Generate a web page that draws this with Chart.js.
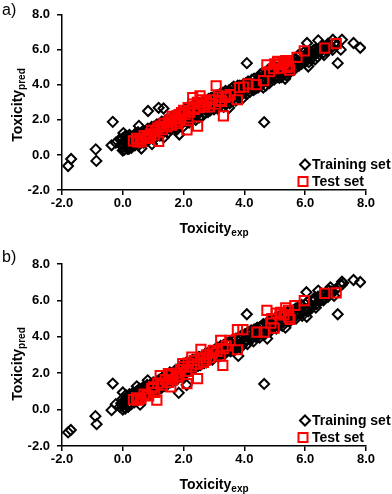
<!DOCTYPE html>
<html>
<head>
<meta charset="utf-8">
<script src="https://cdn.jsdelivr.net/npm/chart.js@4/dist/chart.umd.min.js"></script>
<style>
  body { margin: 0; background: #fff; font-family: 'Liberation Sans', Arial, sans-serif; }
  .panel { position: relative; width: 392px; height: 247px; }
  .panel canvas { position: absolute; left: 0; top: 0; }
  .tag { position: absolute; left: 2px; font-size: 16px; line-height: 16px; }
  .xtitle { position: absolute; left: 214px; transform: translateX(-50%); font-size: 14px; line-height: 14px; font-weight: bold; white-space: nowrap; }
  .ytitle { position: absolute; left: 18px; transform: translate(-50%, -50%) rotate(-90deg); font-size: 14px; line-height: 14px; font-weight: bold; white-space: nowrap; }
  .sub { font-size: 10px; position: relative; top: 3px; }
</style>
</head>
<body>
<div class="panel">
  <canvas id="chartA" width="392" height="247"></canvas>
  <div class="tag" style="top:2px">a)</div>
  <div class="ytitle" style="top:105px">Toxicity<span class="sub">pred</span></div>
  <div class="xtitle" style="top:221px">Toxicity<span class="sub">exp</span></div>
</div>
<div class="panel">
  <canvas id="chartB" width="392" height="247"></canvas>
  <div class="tag" style="top:2px">b)</div>
  <div class="ytitle" style="top:117px">Toxicity<span class="sub">pred</span></div>
  <div class="xtitle" style="top:230px">Toxicity<span class="sub">exp</span></div>
</div>
<script>
// Axis ticks (both panels)
const tickValues = [-2, 0, 2, 4, 6, 8];
const seriesLabels = ['Training set', 'Test set'];

// Panel a) - training set [exp, pred]
const trainingA = [
  [-1.80, -0.63], [-1.70, -0.23], [-0.89, 0.32], [-0.87, -0.34], [-0.33, 1.89], [-0.37, 0.55],
  [-0.23, 0.70], [0.02, 1.25], [0.83, 2.51], [1.18, 2.69], [1.34, 2.65], [0.61, 0.37],
  [0.96, 0.62], [0.53, 1.66], [1.86, 1.17], [4.08, 5.24], [4.65, 1.87], [7.07, 5.24],
  [6.43, 6.54], [6.91, 6.58], [7.21, 6.58], [7.59, 6.39], [7.81, 6.12], [6.06, 6.39],
  [7.17, 6.01], [5.34, 4.35], [3.50, 2.69],
  [0.0, 0.45], [0.0, 0.95], [0.05, 0.3], [0.1, 0.7], [0.1, 1.1], [0.15, 0.5], [0.2, 0.85],
  [0.2, 0.35], [0.25, 1.05], [0.3, 0.6], [0.3, 0.95], [0.35, 0.75], [0.4, 1.2], [0.4, 0.55],
  [0.45, 0.9], [0.5, 1.3], [0.5, 0.7], [0.55, 1.05], [0.6, 0.85], [0.65, 1.35], [0.7, 0.95],
  [0.75, 1.2], [0.8, 0.8], [0.85, 1.45], [0.9, 1.1], [0.95, 1.6], [1.0, 1.25], [1.0, 0.9],
  [1.1, 1.5], [1.15, 1.2], [1.2, 1.75], [1.25, 1.35], [1.3, 1.6], [1.35, 1.0], [1.4, 1.85],
  [1.45, 1.45], [1.5, 1.7], [1.55, 2.05], [1.6, 1.55], [1.65, 1.9], [1.7, 2.25], [1.75, 1.65],
  [1.8, 2.0], [1.9, 2.4], [1.95, 1.8], [2.0, 2.2], [2.05, 2.6], [2.1, 1.9], [2.2, 2.45],
  [2.25, 2.1], [2.3, 2.8], [2.35, 2.3], [2.4, 2.0], [2.45, 2.65], [2.5, 2.4], [2.55, 2.95],
  [2.6, 2.2], [2.7, 2.7], [2.75, 3.1], [2.8, 2.45], [2.85, 2.9], [2.9, 3.25], [3.0, 2.6],
  [3.0, 3.05], [3.1, 3.4], [3.15, 2.8], [3.2, 3.15], [3.3, 3.55], [3.35, 2.95], [3.4, 3.3],
  [3.5, 3.7], [3.55, 3.1], [3.6, 3.45], [3.65, 3.9], [3.75, 3.6], [3.8, 3.25], [3.85, 3.95],
  [3.9, 3.45], [4.0, 3.75], [4.05, 4.1], [4.1, 3.5], [4.2, 3.9], [4.25, 4.3], [4.3, 3.7],
  [4.4, 4.1], [4.45, 3.85], [4.5, 4.45], [4.55, 4.0], [4.6, 4.7], [4.65, 4.25], [4.7, 3.95],
  [4.75, 4.5], [4.8, 4.9], [4.85, 4.3], [4.9, 4.65], [5.0, 5.05], [5.0, 4.45], [5.1, 4.8],
  [5.15, 4.4], [5.2, 5.1], [5.25, 4.6], [5.3, 4.95], [5.4, 5.2], [5.45, 4.75], [5.5, 5.05],
  [5.6, 5.4], [5.65, 4.95], [5.7, 5.25], [5.75, 5.65], [5.8, 5.1], [5.9, 5.5], [5.95, 5.85],
  [6.0, 5.3], [6.05, 5.65], [6.1, 5.05], [6.15, 5.9], [6.2, 5.5], [6.3, 5.8], [6.35, 6.05],
  [6.4, 5.6], [6.5, 5.95], [6.55, 6.25], [6.6, 5.85], [6.7, 6.1], [6.75, 6.35], [6.8, 6.2],
  [0.0, 0.25], [0.05, 0.55], [0.08, 1.05], [0.15, 0.35], [-0.05, 0.6], [-0.1, 0.9], [0.2, 0.45],
  [0.25, 0.75], [0.05, 0.75], [0.12, 0.95], [0.18, 0.6], [0.22, 1.15], [0.28, 0.4], [0.32, 0.85],
  [0.38, 1.0], [0.42, 0.7], [0.48, 1.15], [0.52, 0.55], [0.58, 1.2], [0.62, 0.95], [0.68, 0.7],
  [0.72, 1.3], [0.78, 1.05], [0.82, 1.5], [0.88, 0.9], [0.92, 1.35], [0.98, 1.1], [1.02, 1.6],
  [1.08, 1.0], [1.12, 1.75], [1.18, 1.4], [1.22, 1.1], [1.28, 1.9], [1.32, 1.3], [1.38, 1.6],
  [1.42, 2.0], [1.48, 1.25], [1.52, 1.85], [1.58, 1.45], [1.62, 2.2], [1.68, 1.6], [1.72, 1.95],
  [1.78, 1.45], [1.82, 2.3], [1.88, 1.75], [1.92, 2.1], [1.98, 1.6], [2.02, 2.45], [2.08, 2.05],
  [2.12, 2.7], [2.18, 1.85], [2.22, 2.3], [2.28, 2.0], [2.32, 2.55], [2.38, 2.85], [2.42, 2.25],
  [2.48, 2.95], [2.52, 2.15], [2.58, 2.6], [2.62, 3.05], [2.68, 2.35], [2.72, 2.9], [2.78, 2.6],
  [2.82, 3.2], [2.88, 2.55], [2.92, 2.95], [2.98, 3.3], [3.02, 2.75], [3.08, 3.15], [3.12, 2.65],
  [3.18, 3.45], [3.22, 2.9], [3.28, 3.3], [3.32, 2.75], [3.38, 3.65], [3.42, 3.1], [3.48, 3.45],
  [3.52, 2.95], [3.58, 3.8], [3.62, 3.25], [3.68, 3.6], [3.72, 3.1], [3.78, 3.95], [3.82, 3.4],
  [3.88, 3.75], [3.92, 3.2], [3.98, 4.05], [4.02, 3.55], [4.08, 3.85], [4.12, 4.2], [4.18, 3.6],
  [4.22, 4.05], [4.28, 3.85], [4.32, 4.35], [4.38, 3.8], [4.42, 4.25], [4.48, 3.95], [4.52, 4.6],
  [4.58, 4.15], [4.62, 3.85], [4.68, 4.55], [4.72, 4.2], [4.78, 4.75], [4.82, 4.1], [4.88, 4.5],
  [4.92, 4.95], [4.98, 4.3], [5.02, 4.7], [5.08, 4.45], [5.12, 5.0], [5.18, 4.7], [5.22, 4.45],
  [5.28, 5.1], [5.32, 4.75], [5.38, 4.55], [5.42, 5.0], [5.52, 4.75], [5.58, 5.2], [5.62, 4.85],
  [5.68, 5.5], [5.72, 5.05], [5.78, 5.35], [5.82, 5.75], [5.88, 5.2], [5.92, 5.4], [6.02, 5.55],
  [6.08, 5.85], [6.12, 5.3], [6.22, 5.7], [6.28, 6.0], [6.32, 5.45], [6.42, 5.85], [6.48, 6.1],
  [6.58, 6.05], [6.62, 5.7], [6.72, 5.95], [6.78, 6.3], [6.88, 6.15], [6.95, 6.35], [7.05, 6.3],
  [6.9, 6.0]
];

// Panel a) - test set [exp, pred]
const testA = [
  [0.49, 0.74], [0.57, 0.88], [0.79, 1.01], [0.91, 1.21], [1.06, 1.38], [1.18, 0.77],
  [1.23, 1.65], [1.50, 1.87], [1.62, 2.20], [1.78, 1.78], [1.93, 2.42], [2.11, 1.43],
  [2.14, 2.11], [2.30, 3.27], [2.46, 1.65], [2.54, 3.38], [2.68, 2.74], [2.87, 2.93],
  [3.07, 3.95], [3.20, 3.11], [3.31, 2.23], [3.36, 3.29], [3.53, 3.44], [3.77, 3.15],
  [3.84, 3.84], [3.97, 3.88], [4.12, 4.06], [4.39, 4.02], [4.63, 4.24], [4.74, 5.15],
  [4.83, 4.75], [4.96, 4.93], [5.09, 5.30], [5.27, 5.21], [5.36, 5.39], [5.46, 5.08],
  [5.49, 4.84], [5.73, 5.57], [5.97, 5.94], [6.64, 6.10], [7.02, 6.36],
  [0.35, 0.8], [0.45, 0.95], [0.6, 0.75], [0.7, 1.1], [0.85, 0.95], [0.95, 1.4], [1.05, 1.15],
  [1.15, 1.55], [1.3, 1.45], [1.35, 1.8], [1.45, 1.6], [1.55, 2.0], [1.6, 1.7], [1.7, 2.1],
  [1.75, 1.9], [1.85, 2.3], [1.9, 2.05], [2.0, 2.55], [2.05, 2.3], [2.15, 2.7], [2.2, 2.45],
  [2.3, 2.9], [2.35, 2.6], [2.45, 3.0], [2.5, 2.7], [2.6, 3.15], [2.65, 2.85], [2.75, 3.05],
  [2.85, 2.75], [2.95, 3.15], [3.05, 2.9], [3.15, 3.3], [3.25, 3.05], [3.4, 3.35],
  [5.0, 5.2], [5.15, 5.15], [5.2, 4.95], [5.3, 5.3], [5.4, 5.0], [5.1, 5.35]
];

// Panel b) - training set [exp, pred]
const trainingB = [
  [-1.80, -1.25], [-1.71, -1.12], [-0.90, -0.36], [-0.86, -0.80], [-0.33, 1.43], [-0.37, -0.03],
  [-0.23, 0.30], [0.0, 0.94], [0.46, 1.28], [0.82, 1.61], [0.57, 0.27], [1.84, 0.92],
  [2.1, 1.35], [4.08, 5.24], [4.65, 1.41], [7.07, 5.24], [7.59, 7.12], [7.81, 7.01],
  [7.21, 7.03], [7.17, 6.87], [6.83, 6.72], [6.43, 6.54], [6.04, 6.45], [5.32, 4.99],
  [5.62, 5.03], [3.50, 3.26],
  [0.0, 0.2], [0.0, 0.6], [0.05, 0.1], [0.1, 0.45], [0.1, 0.8], [0.15, 0.25], [0.2, 0.6],
  [0.25, 0.35], [0.3, 0.8], [0.3, 0.5], [0.35, 0.95], [0.4, 0.6], [0.45, 1.0], [0.5, 0.7],
  [0.55, 1.15], [0.6, 0.85], [0.65, 1.2], [0.7, 0.75], [0.75, 1.1], [0.8, 1.35], [0.85, 0.95],
  [0.9, 1.3], [0.95, 1.05], [1.0, 1.5], [1.05, 1.2], [1.1, 1.55], [1.15, 1.25], [1.2, 1.65],
  [1.25, 1.3], [1.3, 1.75], [1.35, 1.45], [1.4, 1.9], [1.45, 1.5], [1.5, 1.75], [1.55, 2.05],
  [1.6, 1.6], [1.65, 2.0], [1.7, 1.75], [1.75, 2.2], [1.8, 1.8], [1.9, 2.15], [1.95, 2.45],
  [2.0, 1.95], [2.05, 2.3], [2.1, 2.6], [2.2, 2.15], [2.25, 2.5], [2.3, 2.75], [2.35, 2.3],
  [2.4, 2.6], [2.5, 2.9], [2.55, 2.45], [2.6, 2.75], [2.7, 3.05], [2.75, 2.6], [2.8, 2.85],
  [2.9, 3.2], [2.95, 2.75], [3.0, 3.0], [3.1, 3.35], [3.15, 2.9], [3.2, 3.2], [3.3, 3.5],
  [3.35, 3.05], [3.4, 3.3], [3.5, 3.65], [3.55, 3.2], [3.6, 3.45], [3.65, 3.8], [3.7, 3.3],
  [3.75, 3.6], [3.8, 2.95], [3.85, 3.85], [3.9, 3.45], [4.0, 3.75], [4.05, 4.1], [4.1, 3.6],
  [4.2, 3.95], [4.25, 4.25], [4.3, 3.75], [4.4, 4.1], [4.45, 4.4], [4.5, 3.95], [4.55, 4.25],
  [4.6, 4.6], [4.65, 4.1], [4.7, 4.45], [4.75, 3.9], [4.8, 4.7], [4.85, 4.3], [4.9, 4.6],
  [5.0, 4.95], [5.05, 4.45], [5.1, 4.75], [5.2, 5.0], [5.25, 4.6], [5.3, 4.9], [5.35, 4.5],
  [5.4, 5.2], [5.5, 4.85], [5.55, 5.15], [5.6, 5.45], [5.7, 5.0], [5.75, 5.35], [5.8, 5.6],
  [5.9, 5.15], [5.95, 5.5], [6.0, 5.8], [6.05, 5.1], [6.1, 5.4], [6.2, 5.75], [6.3, 6.0],
  [6.35, 5.6], [6.45, 5.95], [6.5, 6.25], [6.6, 6.0], [6.7, 6.4], [6.75, 6.2], [6.85, 6.5],
  [7.25, 6.95], [7.2, 6.85],
  [0.0, 0.0], [-0.05, 0.35], [0.08, 0.05], [0.15, 0.55], [-0.1, 0.15],
  [0.05, 0.4], [0.12, 0.6], [0.18, 0.15], [0.22, 0.85], [0.28, 0.3], [0.32, 0.6], [0.38, 0.4],
  [0.42, 0.85], [0.48, 0.5], [0.52, 0.95], [0.58, 0.6], [0.62, 1.0], [0.68, 0.65], [0.72, 1.15],
  [0.78, 0.85], [0.82, 1.2], [0.88, 0.8], [0.92, 1.4], [0.98, 0.95], [1.02, 1.35], [1.08, 1.05],
  [1.12, 1.5], [1.18, 1.1], [1.22, 1.55], [1.28, 1.2], [1.32, 1.6], [1.38, 1.3], [1.42, 1.75],
  [1.48, 1.4], [1.52, 1.85], [1.58, 1.5], [1.62, 2.0], [1.68, 1.6], [1.72, 2.05], [1.78, 1.65],
  [1.82, 2.2], [1.88, 1.8], [1.92, 2.3], [1.98, 1.85], [2.02, 2.4], [2.08, 2.05], [2.12, 2.45],
  [2.18, 2.1], [2.22, 2.6], [2.28, 2.2], [2.32, 2.65], [2.38, 2.3], [2.42, 2.8], [2.48, 2.4],
  [2.52, 2.85], [2.58, 2.5], [2.62, 2.95], [2.68, 2.55], [2.72, 3.05], [2.78, 2.7], [2.82, 3.15],
  [2.88, 2.8], [2.92, 3.2], [2.98, 2.85], [3.02, 3.3], [3.08, 2.95], [3.12, 3.4], [3.18, 3.0],
  [3.22, 3.5], [3.28, 3.1], [3.32, 3.55], [3.38, 3.2], [3.42, 3.65], [3.48, 3.3], [3.52, 3.75],
  [3.58, 3.35], [3.62, 3.85], [3.68, 3.45], [3.72, 3.9], [3.78, 3.55], [3.82, 4.0], [3.88, 3.6],
  [3.92, 4.1], [3.98, 3.7], [4.02, 4.15], [4.08, 3.8], [4.12, 4.25], [4.18, 3.85], [4.22, 4.35],
  [4.28, 3.95], [4.32, 4.4], [4.38, 4.0], [4.42, 4.5], [4.48, 4.1], [4.52, 4.55], [4.58, 4.2],
  [4.62, 4.7], [4.68, 4.3], [4.72, 4.75], [4.78, 4.35], [4.82, 4.85], [4.88, 4.45], [4.92, 4.9],
  [4.98, 4.55], [5.02, 5.05], [5.08, 4.65], [5.12, 5.1], [5.18, 4.75], [5.22, 5.2], [5.28, 4.8],
  [5.32, 5.3], [5.38, 4.9], [5.42, 5.35], [5.48, 5.0], [5.52, 5.4], [5.62, 5.1], [5.68, 5.55],
  [5.72, 5.2], [5.78, 5.65], [5.82, 5.3], [5.88, 5.75], [5.92, 5.35], [6.02, 5.5], [6.08, 5.9],
  [6.12, 5.55], [6.22, 5.6], [6.28, 6.1], [6.38, 5.8], [6.42, 6.2], [6.52, 6.0], [6.58, 6.35],
  [6.62, 6.1], [6.72, 6.25], [6.78, 6.55], [6.92, 6.45], [7.0, 6.6], [6.95, 6.25]
];

// Panel b) - test set [exp, pred]
const testB = [
  [0.49, 0.52], [0.57, 0.61], [0.79, 0.79], [1.01, 1.25], [1.12, 0.52], [1.23, 1.87],
  [1.50, 1.98], [1.58, 1.25], [1.78, 1.80], [1.97, 2.53], [2.11, 1.43], [2.27, 2.89],
  [2.46, 1.70], [2.57, 3.31], [2.74, 2.71], [2.98, 3.26], [3.22, 3.80], [3.29, 2.43],
  [3.53, 3.80], [3.77, 3.29], [3.77, 4.39], [3.95, 4.39], [4.41, 4.26], [4.65, 4.26],
  [4.74, 5.45], [4.87, 4.75], [4.98, 4.48], [5.17, 5.26], [5.36, 5.59], [5.46, 5.08],
  [5.66, 5.72], [5.97, 5.99], [6.64, 6.39], [7.02, 6.41],
  [0.35, 0.55], [0.45, 0.65], [0.6, 0.6], [0.7, 0.85], [0.85, 0.75], [0.95, 1.15], [1.05, 0.95],
  [1.15, 1.45], [1.3, 1.35], [1.4, 1.65], [1.5, 1.5], [1.6, 1.9], [1.65, 1.65], [1.75, 2.0],
  [1.85, 1.85], [1.9, 2.2], [2.0, 2.35], [2.1, 2.1], [2.15, 2.55], [2.25, 2.35], [2.35, 2.7],
  [2.45, 2.5], [2.55, 2.85], [2.65, 2.6], [2.75, 3.0], [2.85, 2.85], [2.95, 3.1], [3.1, 3.2],
  [3.2, 2.95], [3.3, 3.35], [3.4, 3.5], [5.05, 5.3], [5.2, 5.35], [5.3, 5.2], [5.45, 5.45],
  [5.5, 4.95], [4.9, 5.0]
];

const FONT = "'Liberation Sans', Arial, sans-serif";
const RED = '#ff0000';

// Legend drawn inside the plot, bottom right
const insideLegend = {
  id: 'insideLegend',
  afterDraw(chart) {
    const { ctx, chartArea } = chart;
    const x = chartArea.right - 61;
    const y1 = chartArea.bottom - 25.5;
    const y2 = chartArea.bottom - 8.5;
    ctx.save();
    ctx.lineWidth = 2;
    ctx.strokeStyle = '#000';
    ctx.beginPath();
    ctx.moveTo(x, y1 - 5);
    ctx.lineTo(x + 5, y1);
    ctx.lineTo(x, y1 + 5);
    ctx.lineTo(x - 5, y1);
    ctx.closePath();
    ctx.stroke();
    ctx.strokeStyle = RED;
    ctx.strokeRect(x - 6.5, y2 - 4.5, 9, 9);
    ctx.fillStyle = '#000';
    ctx.font = 'bold 14px ' + FONT;
    ctx.textBaseline = 'middle';
    ctx.fillText(seriesLabels[0], x + 7, y1 + 0.5);
    ctx.fillText(seriesLabels[1], x + 7, y2 + 0.5);
    ctx.restore();
  }
};

function makeChart(id, training, test, topPad, xHeight) {
  const toPoints = arr => arr.map(p => ({ x: p[0], y: p[1] }));
  const axisCommon = {
    type: 'linear',
    min: tickValues[0],
    max: tickValues[tickValues.length - 1],
    grid: { drawOnChartArea: false, drawTicks: true, tickLength: 5, color: '#000', lineWidth: 1.5 },
    border: { display: true, color: '#000', width: 1.5 },
    ticks: {
      stepSize: 2,
      color: '#000',
      font: { family: FONT, size: 13, weight: 'bold' },
      callback: v => v.toFixed(1)
    }
  };
  return new Chart(document.getElementById(id), {
    type: 'scatter',
    data: {
      datasets: [
        {
          label: seriesLabels[0],
          data: toPoints(training),
          pointStyle: 'rectRot',
          pointRadius: 5,
          borderWidth: 2,
          borderColor: '#000',
          backgroundColor: 'rgba(0,0,0,0)',
          order: 1
        },
        {
          label: seriesLabels[1],
          data: toPoints(test),
          pointStyle: 'rect',
          pointRadius: 6.5,
          borderWidth: 2,
          borderColor: RED,
          backgroundColor: 'rgba(0,0,0,0)',
          order: 0
        }
      ]
    },
    options: {
      responsive: false,
      animation: false,
      layout: { padding: { top: topPad, right: 26, left: 0, bottom: 0 } },
      plugins: { legend: { display: false }, tooltip: { enabled: false } },
      scales: {
        x: Object.assign({}, axisCommon, {
          ticks: Object.assign({}, axisCommon.ticks, { padding: 1, maxRotation: 0 }),
          afterFit: scale => { scale.height = xHeight; }
        }),
        y: Object.assign({}, axisCommon, {
          ticks: Object.assign({}, axisCommon.ticks, { padding: 7 }),
          afterFit: scale => { scale.width = 62; }
        })
      }
    },
    plugins: [insideLegend]
  });
}

document.addEventListener('DOMContentLoaded', function() {
  makeChart('chartA', trainingA, testA, 7, 57);
  makeChart('chartB', trainingB, testB, 17, 48);
});
</script>
</body>
</html>
